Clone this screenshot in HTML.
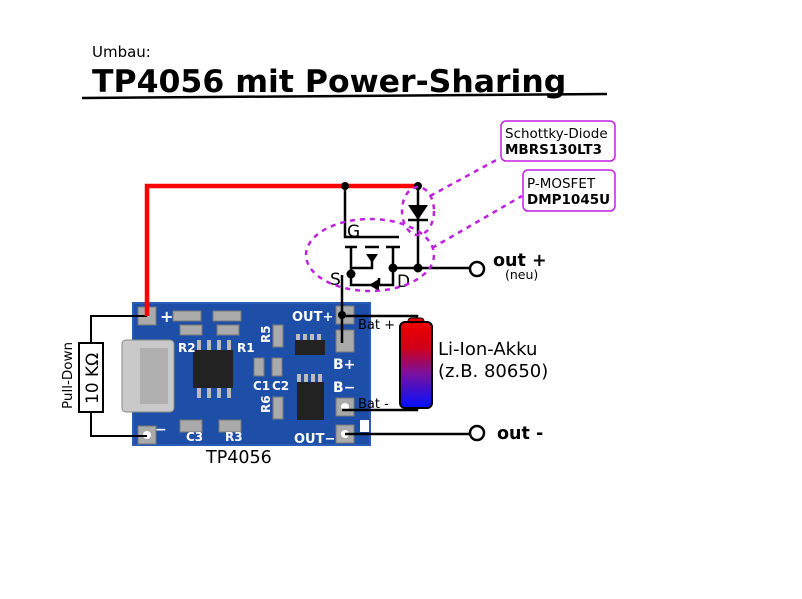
<!DOCTYPE html>
<html><head><meta charset="utf-8"><style>
html,body{margin:0;padding:0;background:#fff;}
svg{display:block;font-family:"DejaVu Sans","Liberation Sans",sans-serif;}
</style></head><body>
<svg width="802" height="599" viewBox="0 0 802 599" xmlns="http://www.w3.org/2000/svg">
<defs>
<linearGradient id="bat" x1="0" y1="0" x2="0" y2="1">
<stop offset="0" stop-color="#ee0000"/><stop offset="0.3" stop-color="#d00018"/><stop offset="0.6" stop-color="#7a10a0"/><stop offset="1" stop-color="#0010ff"/>
</linearGradient>
</defs>
<rect width="802" height="599" fill="#fff"/>
<text x="92" y="57" font-size="15">Umbau:</text>
<text x="92" y="92" font-size="31.5" font-weight="bold">TP4056 mit Power-Sharing</text>
<line x1="82" y1="98" x2="607" y2="94" stroke="#000" stroke-width="2.5"/>

<!-- PCB -->
<path d="M133 303 H370 V420 H360 V432 H370 V445 H133 Z" fill="#1d4fa8"/>
<path d="M133 303 H370 V445 H133 Z" fill="none" stroke="#2a5cb5" stroke-width="2"/>
<rect x="122" y="340" width="52" height="72" rx="4" fill="#c9c9c9" stroke="#888"/>
<rect x="140" y="348" width="28" height="56" fill="#b0b0b0"/>
<g fill="#aaa" stroke="#777">
<rect x="138" y="307" width="18" height="18"/><rect x="138" y="426" width="18" height="18"/>
<rect x="336" y="306" width="18" height="18"/><rect x="336" y="330" width="18" height="22"/>
<rect x="336" y="398" width="18" height="18"/><rect x="336" y="425" width="18" height="18"/>
<rect x="173" y="311" width="28" height="10"/><rect x="213" y="311" width="28" height="10"/>
<rect x="180" y="325" width="22" height="10"/><rect x="217" y="325" width="22" height="10"/>
<rect x="180" y="420" width="22" height="12"/><rect x="219" y="420" width="22" height="12"/>
<rect x="273" y="325" width="10" height="22"/><rect x="273" y="397" width="10" height="22"/>
<rect x="254" y="358" width="10" height="18"/><rect x="272" y="358" width="10" height="18"/>
</g>
<g fill="#fff"><circle cx="147" cy="435" r="4"/><circle cx="345" cy="407" r="4"/><circle cx="345" cy="434" r="4"/></g>
<rect x="193" y="350" width="40" height="38" fill="#222"/>
<g fill="#bbb"><rect x="197" y="340" width="4" height="10"/><rect x="207" y="340" width="4" height="10"/><rect x="217" y="340" width="4" height="10"/><rect x="227" y="340" width="4" height="10"/>
<rect x="197" y="388" width="4" height="10"/><rect x="207" y="388" width="4" height="10"/><rect x="217" y="388" width="4" height="10"/><rect x="227" y="388" width="4" height="10"/>
<rect x="296" y="334" width="4" height="6"/><rect x="303" y="334" width="4" height="6"/><rect x="310" y="334" width="4" height="6"/><rect x="317" y="334" width="4" height="6"/>
<rect x="297" y="374" width="4" height="8"/><rect x="304" y="374" width="4" height="8"/><rect x="311" y="374" width="4" height="8"/><rect x="318" y="374" width="4" height="8"/></g>
<rect x="295" y="340" width="30" height="15" fill="#222"/>
<rect x="297" y="382" width="27" height="38" fill="#222"/>
<g fill="#fff" font-size="12" font-weight="bold">
<text x="160" y="322" font-size="16">+</text>
<text x="178" y="352">R2</text><text x="237" y="352">R1</text>
<text x="253" y="390">C1</text><text x="272" y="390">C2</text>
<text x="186" y="441">C3</text><text x="225" y="441">R3</text>
<text x="292" y="321" font-size="13">OUT+</text>
<text x="333" y="369" font-size="14">B+</text><text x="333" y="392" font-size="14">B−</text>
<text x="294" y="443" font-size="13">OUT−</text>
<text x="270" y="343" transform="rotate(-90 270 343)">R5</text>
<text x="270" y="413" transform="rotate(-90 270 413)">R6</text>
<text x="155" y="434" font-size="14">−</text>
</g>
<text x="206" y="463" font-size="17.5">TP4056</text>

<g stroke="#000" stroke-width="2" fill="none">
<polyline points="147,316 91,316 91,343"/>
<polyline points="91,412 91,436 147,436"/>
<rect x="79" y="343" width="24" height="69" fill="#fff"/>
</g>
<text x="98" y="404" font-size="17" transform="rotate(-90 98 404)">10 KΩ</text>
<text x="72" y="409" font-size="13.5" transform="rotate(-90 72 409)">Pull-Down</text>

<polyline points="147,316 147,186 418,186" fill="none" stroke="#f00" stroke-width="4.5"/>

<g stroke="#000" stroke-width="2.5" fill="none">
<polyline points="345,186 345,237 399,237"/>
<line x1="418" y1="186" x2="418" y2="268"/>
<line x1="393" y1="268" x2="470" y2="268"/>
<line x1="345" y1="247" x2="357" y2="247"/><line x1="365" y1="247" x2="379" y2="247"/><line x1="386" y1="247" x2="400" y2="247"/>
<polyline points="351,247 351,285 393,285 393,247"/>
<polyline points="351,268 372,268 372,254"/>
<line x1="379" y1="285" x2="379" y2="278"/>
<polyline points="342,275 342,343"/>
<polyline points="342,316 417,316 417,320"/>
<polyline points="342,410 417,410 417,406"/>
<line x1="345" y1="434" x2="470" y2="434"/>
<line x1="408" y1="220" x2="428" y2="220"/>
</g>
<polygon points="408,205 428,205 418,220" fill="#000"/>
<polygon points="366,254 378,254 372,263" fill="#000"/>
<polygon points="369,285 379,279 379,291" fill="#000"/>
<g fill="#000"><circle cx="345" cy="186" r="4"/><circle cx="418" cy="186" r="4"/>
<circle cx="351" cy="274" r="4.5"/><circle cx="393" cy="268" r="4.5"/><circle cx="418" cy="268" r="4.5"/>
<circle cx="342" cy="315" r="4"/></g>
<circle cx="477" cy="269" r="7" fill="#fff" stroke="#000" stroke-width="2.5"/>
<circle cx="477" cy="433" r="7" fill="#fff" stroke="#000" stroke-width="2.5"/>
<text x="347" y="237" font-size="17">G</text>
<text x="330" y="285" font-size="17">S</text>
<text x="397" y="287" font-size="17">D</text>
<text x="493" y="266" font-size="17.5" font-weight="bold">out +</text>
<text x="505" y="279" font-size="12.5">(neu)</text>
<text x="497" y="439" font-size="17.5" font-weight="bold">out -</text>
<text x="358" y="329" font-size="13">Bat +</text>
<text x="358" y="408" font-size="13">Bat -</text>

<rect x="408" y="318" width="16" height="6" rx="3" fill="#e00" stroke="#000"/>
<rect x="400" y="322" width="32" height="86" rx="5" fill="url(#bat)" stroke="#000" stroke-width="2"/>
<text x="438" y="355" font-size="18">Li-Ion-Akku</text>
<text x="438" y="377" font-size="18">(z.B. 80650)</text>

<g stroke="#c020e0" stroke-width="2.5" fill="none" stroke-dasharray="5,5">
<ellipse cx="370" cy="255" rx="64" ry="36"/>
<ellipse cx="418" cy="211" rx="16" ry="24"/>
<line x1="430" y1="196" x2="500" y2="158"/>
<line x1="432" y1="248" x2="522" y2="196"/>
</g>
<g fill="#fff" stroke="#c020e0" stroke-width="1.5">
<rect x="501" y="121" width="114" height="40" rx="5"/>
<rect x="523" y="170" width="92" height="41" rx="5"/>
</g>
<text x="505" y="138" font-size="13.5">Schottky-Diode</text>
<text x="505" y="154" font-size="13.5" font-weight="bold">MBRS130LT3</text>
<text x="527" y="188" font-size="13.5">P-MOSFET</text>
<text x="527" y="204" font-size="13.5" font-weight="bold">DMP1045U</text>
</svg>
</body></html>
